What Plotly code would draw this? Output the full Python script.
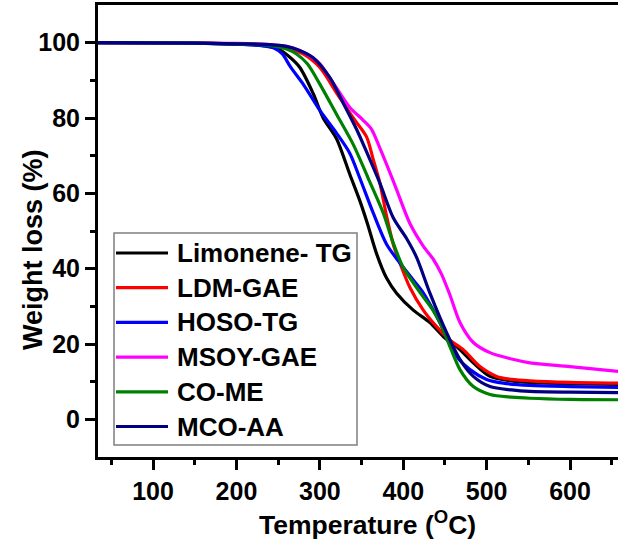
import plotly.graph_objects as go

# TGA curves: temperature (°C) vs remaining weight (%)
names = ["Limonene- TG", "LDM-GAE", "HOSO-TG", "MSOY-GAE", "CO-ME", "MCO-AA"]
colors = ["#000000", "#FF0000", "#0000FF", "#FF00FF", "#008000", "#000080"]

limonene_t = [34, 150, 200, 235, 250, 262, 276, 292, 304, 320, 336, 348, 357, 368, 380, 392, 412, 432, 448, 464, 484, 504, 530, 552, 600, 658]
limonene_w = [100, 99.9, 99.6, 99.2, 98.3, 96.5, 93.4, 86.5, 80, 74.5, 65, 58, 52, 44, 37.5, 33.5, 29, 25.7, 22, 19.3, 15, 11.4, 10.2, 9.8, 9.5, 9.3]

ldm_t = [34, 150, 200, 240, 260, 280, 300, 320, 340, 356, 364, 372, 380, 388, 396, 408, 424, 440, 456, 472, 492, 512, 530, 552, 600, 658]
ldm_w = [100, 99.9, 99.7, 99.4, 98.6, 97, 93.4, 86.7, 80, 75, 69, 62.7, 54, 46.5, 41.5, 35, 29, 24.6, 21, 18.5, 14, 11.4, 10.6, 10.2, 9.8, 9.6]

hoso_t = [34, 150, 200, 230, 245, 255, 265, 280, 300, 320, 336, 348, 364, 380, 396, 412, 424, 436, 448, 464, 480, 500, 520, 552, 600, 658]
hoso_w = [100, 99.9, 99.6, 99.2, 98.6, 97, 93.5, 89, 82, 76, 70.6, 64, 54.8, 46.5, 41.5, 37, 33.6, 29, 23.8, 16.7, 13.2, 10.6, 9.6, 9.0, 8.7, 8.5]

msoy_t = [34, 150, 200, 240, 260, 275, 288, 300, 320, 336, 352, 362, 372, 384, 392, 408, 424, 436, 446, 456, 468, 484, 504, 530, 552, 600, 658]
msoy_w = [100, 99.9, 99.8, 99.5, 99, 98, 96.5, 94.4, 88, 82.8, 79.4, 77, 72, 65.5, 61, 52, 46, 42.5, 38.5, 33, 25.7, 20.4, 17.7, 16, 15, 14, 12.7]

come_t = [34, 150, 200, 240, 260, 272, 285, 300, 320, 340, 358, 376, 388, 400, 416, 424, 434, 444, 456, 468, 484, 504, 530, 552, 600, 658]
come_w = [100, 99.9, 99.7, 99.3, 98.3, 97, 94.4, 89, 81, 73, 64, 54.8, 46.8, 40.3, 35, 32.5, 29.5, 25.7, 19.3, 13.2, 8.7, 6.6, 5.9, 5.6, 5.3, 5.2]

mco_t = [34, 150, 200, 240, 260, 275, 292, 312, 328, 344, 358, 372, 388, 404, 416, 432, 452, 468, 484, 504, 530, 552, 600, 658]
mco_w = [100, 99.9, 99.7, 99.5, 99, 98, 96, 90.7, 84, 77, 70, 62.7, 53.5, 48, 43, 33.5, 23, 15.9, 11.4, 8.7, 7.8, 7.4, 7.2, 7.1]

series_t = [limonene_t, ldm_t, hoso_t, msoy_t, come_t, mco_t]
series_w = [limonene_w, ldm_w, hoso_w, msoy_w, come_w, mco_w]

x_ticks = [100, 200, 300, 400, 500, 600]
x_minor = [50, 150, 250, 350, 450, 550, 650]
y_ticks = [0, 20, 40, 60, 80, 100]
y_minor = [10, 30, 50, 70, 90]

FONT = "Liberation Sans"
W, H = 618, 541
ML, MR, MT, MB = 98, 0, 5, 84

fig = go.Figure()
for name, col, t, w in zip(names, colors, series_t, series_w):
    fig.add_trace(go.Scatter(
        x=t, y=w, mode="lines", name=name,
        line=dict(color=col, width=3.2, shape="spline", smoothing=0.8),
        showlegend=False,
    ))

# Boxed legend drawn in paper coordinates
pw, ph = W - ML - MR, H - MT - MB
def px_x(px):
    return (px - ML) / pw
def px_y(py):
    return (H - MB - py) / ph

shapes = [dict(type="rect", xref="paper", yref="paper",
               x0=px_x(114), x1=px_x(357), y0=px_y(445), y1=px_y(233),
               line=dict(color="#7f7f7f", width=1.5), fillcolor="white", layer="above")]
annotations = []
for i, (name, col) in enumerate(zip(names, colors)):
    yc = 253 + 34.7 * i
    shapes.append(dict(type="line", xref="paper", yref="paper",
                       x0=px_x(116), x1=px_x(168), y0=px_y(yc), y1=px_y(yc),
                       line=dict(color=col, width=3.2), layer="above"))
    annotations.append(dict(xref="paper", yref="paper", x=px_x(175), y=px_y(yc),
                            text=name, showarrow=False, xanchor="left", yanchor="middle",
                            font=dict(family=FONT, size=26, color="black", weight="bold")))

tickfont = dict(family=FONT, size=25, color="black", weight="bold")

# Axis titles
annotations.append(dict(xref="paper", yref="paper", x=px_x(367), y=px_y(523),
                        text="Temperature (<sup>O</sup>C)", showarrow=False,
                        xanchor="center", yanchor="middle",
                        font=dict(family=FONT, size=26.5, color="black", weight="bold")))
annotations.append(dict(xref="paper", yref="paper", x=px_x(33), y=px_y(250),
                        text="Weight loss (%)", showarrow=False, textangle=-90,
                        xanchor="center", yanchor="middle",
                        font=dict(family=FONT, size=27, color="black", weight="bold")))

fig.update_xaxes(
    range=[34, 657.5], showline=True, linewidth=3, linecolor="black", mirror=True,
    ticks="outside", ticklen=10, tickwidth=3, tickcolor="black",
    tickvals=x_ticks, ticktext=[str(v) for v in x_ticks], tickfont=tickfont,
    minor=dict(tickvals=x_minor, ticks="outside", ticklen=5, tickwidth=3, tickcolor="black"),
    showgrid=False, zeroline=False,
)
fig.update_yaxes(
    range=[-10, 110], showline=True, linewidth=3, linecolor="black",
    ticks="outside", ticklen=10, tickwidth=3, tickcolor="black",
    tickvals=y_ticks, ticktext=[str(v) for v in y_ticks], tickfont=tickfont,
    minor=dict(tickvals=y_minor, ticks="outside", ticklen=5, tickwidth=3, tickcolor="black"),
    showgrid=False, zeroline=False,
)

fig.update_layout(
    width=W, height=H,
    margin=dict(l=ML, r=MR, t=MT, b=MB, pad=0),
    paper_bgcolor="white", plot_bgcolor="white",
    shapes=shapes, annotations=annotations,
    showlegend=False,
)

fig.write_html("out.html")
